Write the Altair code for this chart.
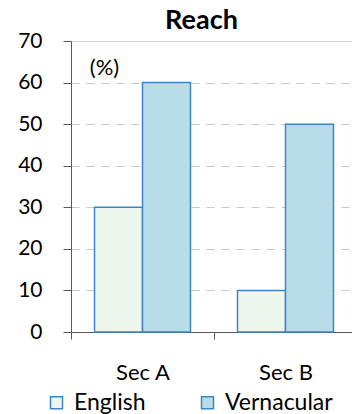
import altair as alt
import pandas as pd

sections = ["Sec A", "Sec B"]
english = [30, 10]
vernacular = [60, 50]
series = ["English", "Vernacular"]

rows = []
for i, s in enumerate(sections):
    rows.append({"section": s, "series": "English", "value": english[i]})
    rows.append({"section": s, "series": "Vernacular", "value": vernacular[i]})
df = pd.DataFrame(rows)

FONT = "Lato"
AXIS_COLOR = "#595959"

bars = alt.Chart(df).mark_bar(stroke="#3D85C6", strokeWidth=1.5).encode(
    x=alt.X("section:N", sort=sections,
            scale=alt.Scale(paddingInner=0, paddingOuter=0, range=[0, 286]),
            axis=alt.Axis(title=None, labelAngle=0, tickBand="extent", tickSize=7,
                          tickColor=AXIS_COLOR, domainColor=AXIS_COLOR,
                          labelFontSize=22, labelPadding=23, labelColor="#000000",
                          labelFont=FONT)),
    xOffset=alt.XOffset("series:N", sort=series,
                        scale=alt.Scale(paddingOuter=0.49, paddingInner=0)),
    y=alt.Y("value:Q", scale=alt.Scale(domain=[0, 70]),
            axis=alt.Axis(title="(%)", titleAngle=0, titleX=33, titleY=26,
                          titleAlign="center", titleBaseline="middle",
                          titleFontWeight="normal", titleFontSize=22, titleFont=FONT,
                          values=[0, 10, 20, 30, 40, 50, 60, 70],
                          tickSize=8, tickColor=AXIS_COLOR, domainColor=AXIS_COLOR,
                          labelFontSize=21, labelPadding=21, labelFont=FONT,
                          labelColor="#000000",
                          grid=True, gridColor="#C8C8C8",
                          gridDash={"condition": {"test": "datum.value === 70", "value": [1, 0]},
                                    "value": [8, 7]})),
    color=alt.Color("series:N", sort=series,
                    scale=alt.Scale(domain=series, range=["#EEF7EE", "#B7DDE8"]),
                    legend=alt.Legend(title=None, orient="none", direction="horizontal",
                                      legendX=-26, legendY=350,
                                      symbolType="square", symbolSize=144,
                                      symbolStrokeColor="#3D85C6", symbolStrokeWidth=1.5,
                                      labelFontSize=23, labelFont=FONT, labelOffset=6,
                                      columnPadding=50, labelColor="#000000")),
).properties(
    width=281, height=291,
    title=alt.TitleParams("Reach", fontSize=27, font=FONT, fontWeight="bold",
                          anchor="middle", dx=-10, dy=11, offset=6, color="#000000"),
    autosize=alt.AutoSizeParams(type="none"),
    padding={"left": 71, "top": 41, "right": 0, "bottom": 82},
).configure_view(stroke=None)

chart = bars
chart.save("out.html", embed_options={"renderer": "svg", "actions": False})
